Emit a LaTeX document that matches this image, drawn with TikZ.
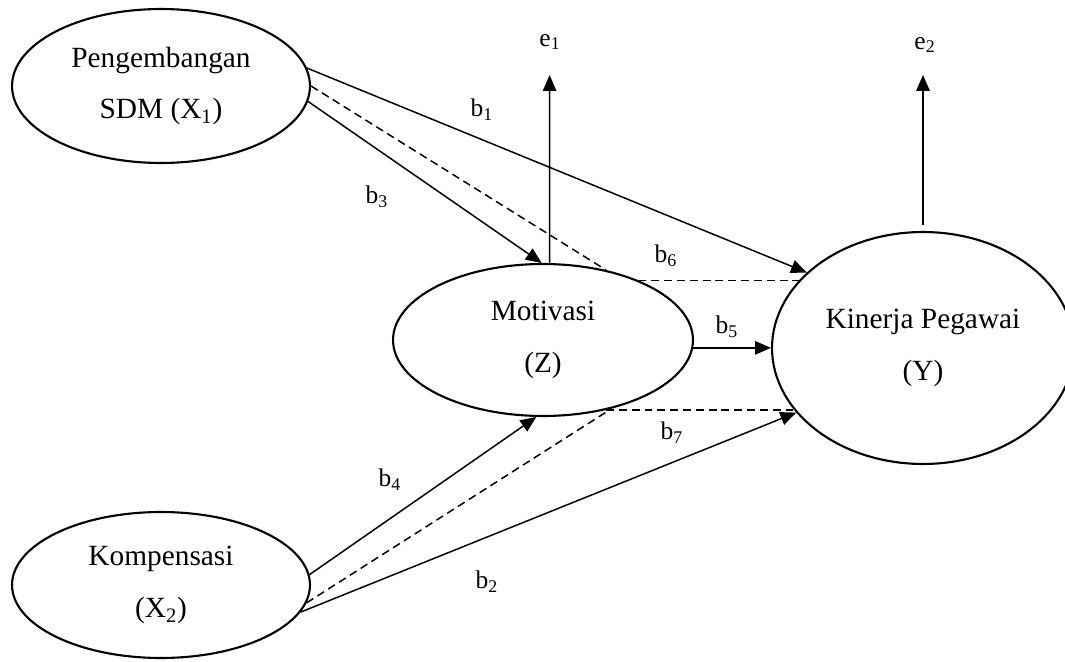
\documentclass[tikz,border=0pt]{standalone}
\usepackage{fontspec}
\setmainfont{Liberation Serif}
\usetikzlibrary{arrows.meta,shapes.geometric}

\begin{document}
\begin{tikzpicture}[x=0.02cm, y=-0.02cm,
    var/.style={draw, ellipse, line width=1.2pt, inner sep=0pt, align=center,
      font=\fontsize{16.7}{29.5}\selectfont},
    coef/.style={inner sep=1pt, font=\fontsize{14.5}{17}\selectfont},
    arr/.style={-{Triangle[length=9pt,width=7.6pt]}, line width=0.85pt},
    ind/.style={dash pattern=on 4.5pt off 2.8pt, line width=0.85pt}]
  \useasboundingbox (0,0) rectangle (1065,662);

  \node (x1) [var, minimum width=5.96cm, minimum height=3.08cm] at (161,86)
    {Pengembangan\\SDM (X\textsubscript{1})};

  \node (x2) [var, minimum width=5.96cm, minimum height=2.92cm] at (161,585)
    {Kompensasi\\(X\textsubscript{2})};

  \node (z) [var, minimum width=6cm, minimum height=3.04cm] at (543,340)
    {Motivasi\\(Z)};

  \node (y) [var, minimum width=6.04cm, minimum height=4.64cm] at (923,348)
    {Kinerja Pegawai\\(Y)};

  \node (e1) [coef] at (550,42) {e\textsubscript{1}};
  \node (e2) [coef] at (925,45) {e\textsubscript{2}};
  \coordinate (e1tip) at (549.6,75);
  \coordinate (e2tip) at (923,75);

  % direct paths
  \draw[arr] (x1.7) -- (y.147);
  \draw[arr] (x1.-6) -- (z.91);
  \draw[arr] (x2.4) -- (z.-95);
  \draw[arr] (x2.-11) -- (y.207);
  \draw[arr] (z.-3) -- (z.-3 -| y.west);

  % indirect paths
  \draw[ind] (x1.0) -- (z.48);
  \draw[ind] (z.32) -- (z.32 -| y.151);
  \draw[ind] (x2.-7) -- (z.-45);
  \draw[ind] (z.-48) -- (z.-48 -| y.205);

  % residuals
  \draw[arr] (z.85) -- (e1tip);
  \draw[arr, shorten <=0.12cm] (y.north) -- (e2tip);

  \node (b1) [coef] at (482,110) {b\textsubscript{1}};
  \node (b2) [coef] at (487,582) {b\textsubscript{2}};
  \node (b3) [coef] at (377,197) {b\textsubscript{3}};
  \node (b4) [coef] at (390,480) {b\textsubscript{4}};
  \node (b5) [coef] at (727,327) {b\textsubscript{5}};
  \node (b6) [coef] at (666,256) {b\textsubscript{6}};
  \node (b7) [coef] at (672,433) {b\textsubscript{7}};
\end{tikzpicture}
\end{document}
